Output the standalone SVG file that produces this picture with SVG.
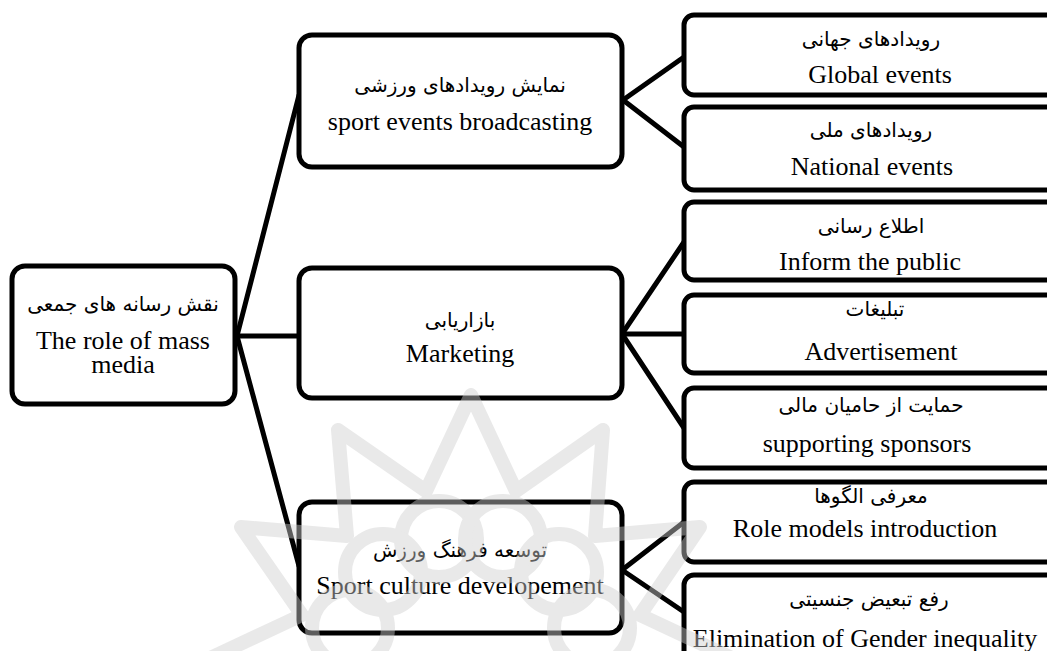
<svg xmlns="http://www.w3.org/2000/svg" width="1047" height="651" viewBox="0 0 1047 651">
<style>
.box{fill:#fff;stroke:#000;stroke-width:5}
.con{fill:none;stroke:#000;stroke-width:5;stroke-linecap:round}
.en{font-family:"Liberation Serif","Times New Roman",serif;font-size:26px;fill:#000;text-anchor:middle}
.fa{font-family:"DejaVu Sans","Noto Sans",sans-serif;font-size:20px;fill:#000;text-anchor:middle}
.wm{fill:none;stroke:#cfcfcf;stroke-width:14;stroke-linejoin:round;opacity:0.45}
</style>
<rect width="1047" height="651" fill="#fff"/>
<g id="connectors">
<line class="con" x1="237" y1="336" x2="299" y2="95"/>
<line class="con" x1="237" y1="336" x2="299" y2="336"/>
<line class="con" x1="237" y1="336" x2="299" y2="566"/>
<line class="con" x1="623" y1="100" x2="684" y2="57"/>
<line class="con" x1="623" y1="100" x2="684" y2="147"/>
<line class="con" x1="622" y1="334" x2="684" y2="242"/>
<line class="con" x1="622" y1="334" x2="684" y2="334"/>
<line class="con" x1="622" y1="334" x2="684" y2="428"/>
<line class="con" x1="622" y1="570" x2="684" y2="522"/>
<line class="con" x1="622" y1="570" x2="684" y2="612"/>
</g>
<g id="root">
<rect class="box" x="12" y="266" width="223" height="138" rx="13"/>
<text class="fa" x="123" y="311">نقش رسانه های جمعی</text>
<text class="en" x="123" y="349">The role of mass</text>
<text class="en" x="123" y="373">media</text>
</g>
<g id="broadcasting">
<rect class="box" x="299" y="35" width="323" height="132" rx="13"/>
<text class="fa" x="460" y="92">نمایش رویدادهای ورزشی</text>
<text class="en" x="460" y="130">sport events broadcasting</text>
</g>
<g id="marketing">
<rect class="box" x="299" y="268" width="323" height="130" rx="13"/>
<text class="fa" x="460" y="327">بازاریابی</text>
<text class="en" x="460" y="362">Marketing</text>
</g>
<g id="culture">
<rect class="box" x="299" y="502" width="323" height="131" rx="13"/>
<text class="fa" x="460" y="557">توسعه فرهنگ ورزش</text>
<text class="en" x="460" y="594">Sport culture developement</text>
</g>
<g id="global">
<rect class="box" x="684" y="15" width="400" height="80" rx="10"/>
<text class="fa" x="871" y="46">رویدادهای جهانی</text>
<text class="en" x="880" y="83">Global events</text>
</g>
<g id="national">
<rect class="box" x="684" y="107" width="400" height="83" rx="10"/>
<text class="fa" x="871" y="137">رویدادهای ملی</text>
<text class="en" x="872" y="175">National events</text>
</g>
<g id="inform">
<rect class="box" x="684" y="202" width="400" height="78" rx="10"/>
<text class="fa" x="871" y="233">اطلاع رسانی</text>
<text class="en" x="870" y="270">Inform the public</text>
</g>
<g id="advert">
<rect class="box" x="684" y="295" width="400" height="78" rx="10"/>
<text class="fa" x="875" y="316">تبلیغات</text>
<text class="en" x="881" y="360">Advertisement</text>
</g>
<g id="sponsors">
<rect class="box" x="684" y="388" width="400" height="80" rx="10"/>
<text class="fa" x="871" y="412">حمایت از حامیان مالی</text>
<text class="en" x="867" y="452">supporting sponsors</text>
</g>
<g id="rolemodels">
<rect class="box" x="684" y="482" width="400" height="80" rx="10"/>
<text class="fa" x="871" y="503">معرفی الگوها</text>
<text class="en" x="865" y="537">Role models introduction</text>
</g>
<g id="gender">
<rect class="box" x="684" y="575" width="400" height="90" rx="10"/>
<text class="fa" x="869" y="606">رفع تبعیض جنسیتی</text>
<text class="en" x="865" y="647">Elimination of Gender inequality</text>
</g>
<g id="watermark" class="wm">
<path d="M 206 660 L 302 615 L 241 527 L 347 536 L 338 430 L 426 491 L 471 395 L 516 491 L 603 430 L 595 536 L 700 527 L 640 615 L 736 660"/>
<circle cx="439" cy="539" r="38"/>
<circle cx="503" cy="539" r="38"/>
<circle cx="383" cy="572" r="38"/>
<circle cx="559" cy="572" r="38"/>
<circle cx="350" cy="628" r="38"/>
<circle cx="592" cy="628" r="38"/>
</g>
</svg>
